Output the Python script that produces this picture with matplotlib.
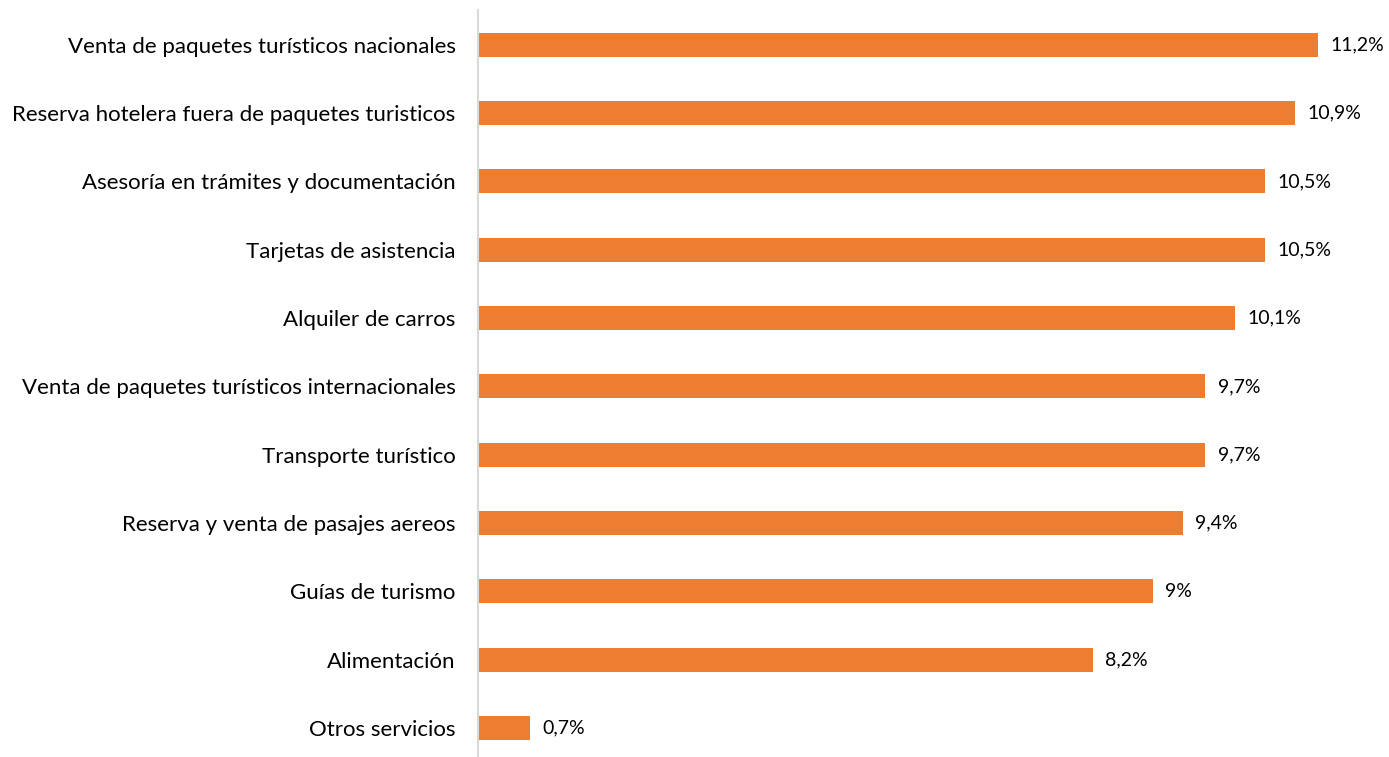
import matplotlib.pyplot as plt

plt.rcParams['font.family'] = ['Lato', 'DejaVu Sans']

# data
servicios = ['Venta de paquetes turísticos nacionales',
             'Reserva hotelera fuera de paquetes turisticos',
             'Asesoría en trámites y documentación',
             'Tarjetas de asistencia',
             'Alquiler de carros',
             'Venta de paquetes turísticos internacionales',
             'Transporte turístico',
             'Reserva y venta de pasajes aereos',
             'Guías de turismo',
             'Alimentación',
             'Otros servicios']
porcentajes = [11.2, 10.9, 10.5, 10.5, 10.1, 9.7, 9.7, 9.4, 9.0, 8.2, 0.7]
etiquetas = ['11,2%', '10,9%', '10,5%', '10,5%', '10,1%', '9,7%', '9,7%', '9,4%', '9%', '8,2%', '0,7%']

fig = plt.figure(figsize=(13.89, 7.57), dpi=100)
ax = fig.add_axes([0.344, 0.0, 0.648, 0.987])

pos = range(len(servicios))
ax.barh(pos, porcentajes, height=0.35, color='#ED7D31')
ax.set_ylim(10.425, -0.512)
ax.set_xlim(0, 12)

for y, v, t in zip(pos, porcentajes, etiquetas):
    ax.annotate(t, (v, y), xytext=(9, 0), textcoords='offset points',
                va='center', ha='left', fontsize=14, color='#000000')

ax.set_yticks(list(pos))
ax.set_yticklabels(servicios, fontsize=16, color='#000000')
ax.tick_params(axis='y', length=0, pad=16)
ax.set_xticks([])

for s in ['top', 'right', 'bottom']:
    ax.spines[s].set_visible(False)
ax.spines['left'].set_color('#D9D9D9')
ax.spines['left'].set_linewidth(1.5)

plt.savefig('out.png', dpi=100)
